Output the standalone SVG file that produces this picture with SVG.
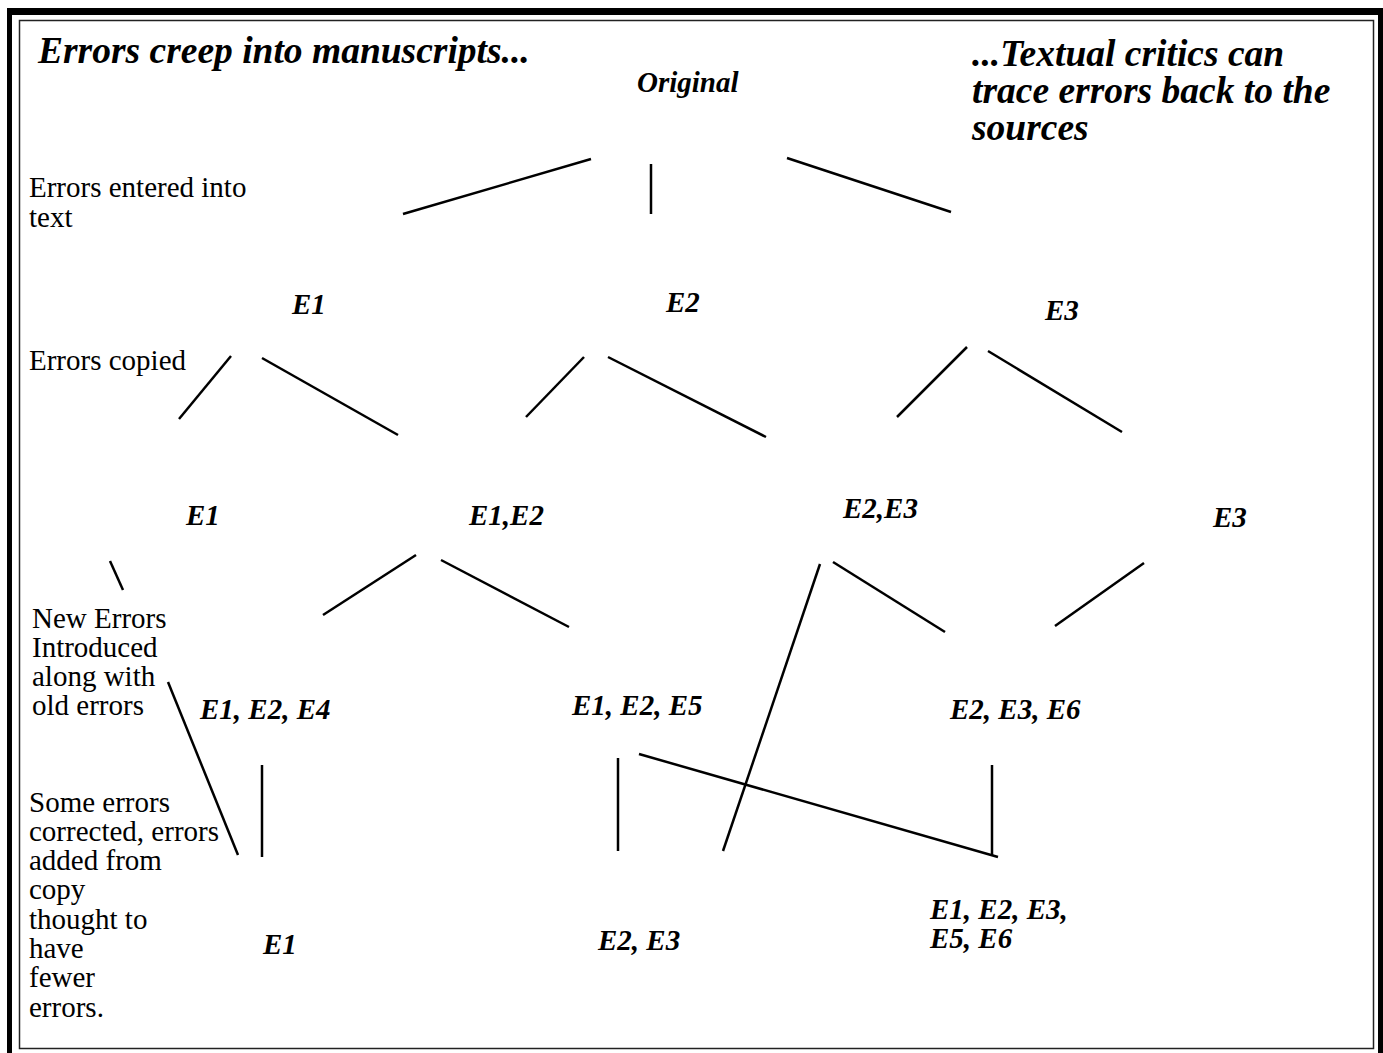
<svg xmlns="http://www.w3.org/2000/svg" width="1383" height="1053" viewBox="0 0 1383 1053">
<style>
.lbl{font-family:"Liberation Serif","Times New Roman",serif;font-size:29px;fill:#000}
.node{font-family:"Liberation Serif","Times New Roman",serif;font-size:29px;font-weight:bold;font-style:italic;fill:#000}
.title{font-family:"Liberation Serif","Times New Roman",serif;font-size:37.5px;font-weight:bold;font-style:italic;fill:#000}
.conn line{stroke:#000;stroke-width:2.5;stroke-linecap:butt}
</style>
<rect width="1383" height="1053" fill="#fff"/>
<g id="frame">
<rect x="7" y="8" width="1376" height="1060" fill="#000"/>
<rect x="12" y="15" width="1366" height="1053" fill="#fff"/>
<rect x="19.5" y="20.5" width="1354" height="1028" fill="none" stroke="#222" stroke-width="1.5"/>
</g>
<g id="titles">
<text class="title" x="38" y="63">Errors creep into manuscripts...</text>
<text class="title" x="972" y="66">...Textual critics can</text>
<text class="title" x="972" y="103">trace errors back to the</text>
<text class="title" x="972" y="140">sources</text>
</g>
<g id="annotations">
<text class="lbl" x="29" y="197">Errors entered into</text>
<text class="lbl" x="29" y="227">text</text>
<text class="lbl" x="29" y="370">Errors copied</text>
<text class="lbl" x="32" y="628">New Errors</text>
<text class="lbl" x="32" y="657">Introduced</text>
<text class="lbl" x="32" y="686">along with</text>
<text class="lbl" x="32" y="715">old errors</text>
<text class="lbl" x="29" y="812">Some errors</text>
<text class="lbl" x="29" y="841">corrected, errors</text>
<text class="lbl" x="29" y="870">added from</text>
<text class="lbl" x="29" y="899">copy</text>
<text class="lbl" x="29" y="929">thought to</text>
<text class="lbl" x="29" y="958">have</text>
<text class="lbl" x="29" y="987">fewer</text>
<text class="lbl" x="29" y="1017">errors.</text>
</g>
<g id="n-original"><text class="node" x="637" y="92">Original</text></g>
<g id="n-e1-a"><text class="node" x="292" y="314">E1</text></g>
<g id="n-e2-a"><text class="node" x="666" y="312">E2</text></g>
<g id="n-e3-a"><text class="node" x="1045" y="320">E3</text></g>
<g id="n-e1-b"><text class="node" x="186" y="525">E1</text></g>
<g id="n-e1e2"><text class="node" x="469" y="525">E1,E2</text></g>
<g id="n-e2e3"><text class="node" x="843" y="518">E2,E3</text></g>
<g id="n-e3-b"><text class="node" x="1213" y="527">E3</text></g>
<g id="n-e1e2e4"><text class="node" x="200" y="719">E1, E2, E4</text></g>
<g id="n-e1e2e5"><text class="node" x="572" y="715">E1, E2, E5</text></g>
<g id="n-e2e3e6"><text class="node" x="950" y="719">E2, E3, E6</text></g>
<g id="n-e1-c"><text class="node" x="263" y="954">E1</text></g>
<g id="n-e2e3-c"><text class="node" x="598" y="950">E2, E3</text></g>
<g id="n-all"><text class="node" x="930" y="919">E1, E2, E3,</text><text class="node" x="930" y="948">E5, E6</text></g>
<g id="connectors" class="conn">
<line x1="403" y1="214" x2="591" y2="159"/>
<line x1="651" y1="164" x2="651" y2="214"/>
<line x1="787" y1="158" x2="951" y2="212"/>
<line x1="179" y1="419" x2="231" y2="356"/>
<line x1="262" y1="358" x2="398" y2="435"/>
<line x1="526" y1="417" x2="584" y2="357"/>
<line x1="608" y1="357" x2="766" y2="437"/>
<line x1="897" y1="417" x2="967" y2="347"/>
<line x1="988" y1="351" x2="1122" y2="432"/>
<line x1="110" y1="561" x2="123" y2="590"/>
<line x1="323" y1="615" x2="416" y2="555"/>
<line x1="441" y1="560" x2="569" y2="627"/>
<line x1="820" y1="564" x2="723" y2="851"/>
<line x1="833" y1="562" x2="945" y2="632"/>
<line x1="1055" y1="626" x2="1144" y2="563"/>
<line x1="168" y1="682" x2="238" y2="855"/>
<line x1="262" y1="765" x2="262" y2="857"/>
<line x1="618" y1="758" x2="618" y2="851"/>
<line x1="639" y1="754" x2="998" y2="857"/>
<line x1="992" y1="765" x2="992" y2="855"/>
</g>
</svg>
